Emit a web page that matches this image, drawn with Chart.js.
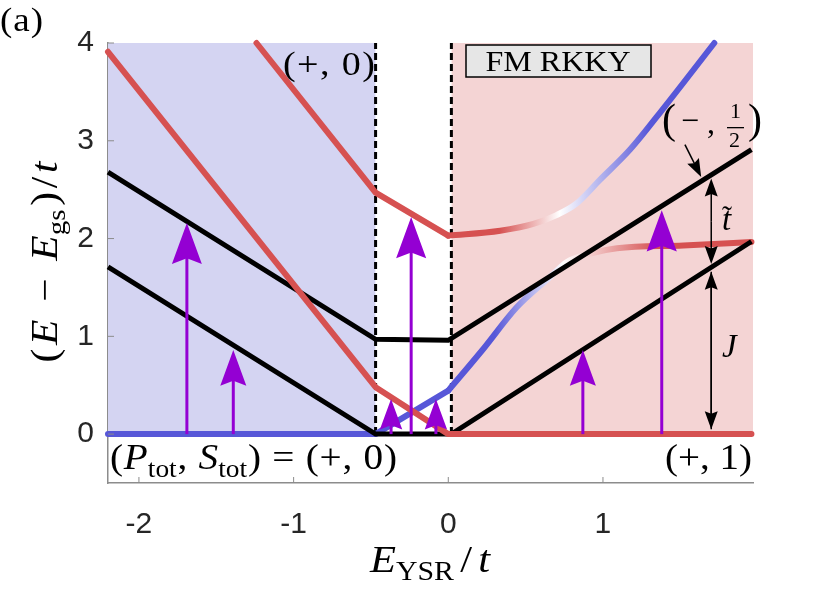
<!DOCTYPE html>
<html>
<head>
<meta charset="utf-8">
<script src="https://cdn.jsdelivr.net/npm/chart.js@4.4.0/dist/chart.umd.min.js"></script>
<style>
  html, body { margin: 0; padding: 0; background: #fff; }
  #wrap { width: 830px; height: 589px; }
</style>
</head>
<body>
<div id="wrap"><canvas id="spectrum" width="830" height="589"></canvas></div>
<script>
const xTicks = [-2, -1, 0, 1];
const yTicks = [0, 1, 2, 3, 4];

// levels: x = E_YSR/t, y = (E - E_gs)/t
const blackLowX = [-2.2, -0.47, 0.02, 1.96];
const blackLowY = [1.71, 0, 0, 1.97];
const blackUpX = [-2.2, -0.47, 0.0, 1.96];
const blackUpY = [2.68, 0.97, 0.96, 2.91];
const redLowX = [-2.2, -0.47, 0.0, 1.96];
const redLowY = [3.91, 0.48, 0, 0];
const redUpX = [-1.24, -0.47, 0.0];
const redUpY = [4.0, 2.47, 2.03];
const upperBendX = [0.0, 0.336, 0.55, 0.70, 0.83, 0.98, 1.175, 1.40, 1.72];
const upperBendY = [2.03, 2.08, 2.15, 2.24, 2.36, 2.60, 2.91, 3.35, 4.0];
const blueBaseX = [-2.2, -0.47, 0.0];
const blueBaseY = [0, 0, 0.445];
const lowerBendX = [0.0, 0.218, 0.444, 0.66, 0.767, 0.917, 1.09, 1.52, 1.96];
const lowerBendY = [0.445, 0.855, 1.30, 1.61, 1.76, 1.846, 1.90, 1.93, 1.965];

// phase regions and their borders
const blueRegionX = [-2.2, -0.47];
const blueRegionTop = [4.005, 4.03];
const pinkRegionX = [0.02, 1.97];
const pinkRegionTop = [4.005, 4.05];
const boundaryX = [-0.47, 0.02];

// purple excitation arrows, all from y = 0
const exciteX = [-1.69, -1.39, -0.37, -0.24, -0.08, 0.87, 1.38];
const exciteTop = [2.16, 0.86, 0.36, 2.22, 0.36, 0.86, 2.29];

// black gap markers
const gapX = 1.70;
const tildeSpan = [1.74, 2.615];
const jSpan = [0.05, 1.66];
const pointerFrom = [1.53, 2.96];
const pointerTo = [1.635, 2.63];

const RED = '#d65151';
const BLUE = '#5757d8';
const PURPLE = '#9400d3';
const SERIF = '"Liberation Serif", "DejaVu Serif", serif';

const pts = (xs, ys) => xs.map((x, i) => ({ x: x, y: ys[i] }));

function lineSet(xs, ys, color, width, order, extra) {
  return Object.assign({
    data: pts(xs, ys),
    showLine: true,
    borderColor: color,
    borderWidth: width,
    pointRadius: 0,
    tension: 0,
    fill: false,
    clip: 8,
    order: order
  }, extra || {});
}

function bendGradient(stops) {
  return (ctx) => {
    const chart = ctx.chart;
    if (!chart.chartArea) return stops[0][1];
    const sx = chart.scales.x;
    const x0 = sx.getPixelForValue(stops[0][0]);
    const x1 = sx.getPixelForValue(stops[stops.length - 1][0]);
    const g = chart.ctx.createLinearGradient(x0, 0, x1, 0);
    stops.forEach(([v, col]) => g.addColorStop((sx.getPixelForValue(v) - x0) / (x1 - x0), col));
    return g;
  };
}

function region(xs, tops, color, order) {
  return {
    data: pts(xs, tops),
    showLine: true,
    borderWidth: 0,
    pointRadius: 0,
    backgroundColor: color,
    fill: 'origin',
    order: order
  };
}

const round = { borderCapStyle: 'round', borderJoinStyle: 'round' };
const smooth = { borderCapStyle: 'round', borderJoinStyle: 'round', cubicInterpolationMode: 'monotone' };
const dashed = { borderDash: [7, 4], borderCapStyle: 'butt' };

const datasets = [
  lineSet(redLowX, redLowY, RED, 6, 1, round),
  lineSet(blackUpX, blackUpY, '#000', 5, 2),
  lineSet(blackLowX, blackLowY, '#000', 5, 2),
  lineSet(blueBaseX, blueBaseY, BLUE, 6, 3, round),
  lineSet(lowerBendX, lowerBendY,
    bendGradient([[0.3, BLUE], [0.74, '#ffffff'], [1.35, RED]]), 6, 3, smooth),
  lineSet(redUpX, redUpY, RED, 6, 4, round),
  lineSet(upperBendX, upperBendY,
    bendGradient([[0.33, RED], [0.72, '#ffffff'], [1.3, BLUE]]), 6, 4, smooth),
  lineSet([boundaryX[0], boundaryX[0]], [0, 4], '#000', 3, 5, dashed),
  lineSet([boundaryX[1], boundaryX[1]], [0, 4], '#000', 3, 5, dashed),
  region(blueRegionX, blueRegionTop, '#d4d4f2', 6),
  region(pinkRegionX, pinkRegionTop, '#f4d4d4', 6)
];

function arrowHead(c, tx, ty, ang, len, wid, color) {
  c.save();
  c.translate(tx, ty);
  c.rotate(ang);
  c.beginPath();
  c.moveTo(0, 0);
  c.lineTo(-len, -wid / 2);
  c.lineTo(-len * 0.86, 0);
  c.lineTo(-len, wid / 2);
  c.closePath();
  c.fillStyle = color;
  c.fill();
  c.restore();
}

function arrow(c, x0, y0, x1, y1, color, lw, len, wid) {
  const ang = Math.atan2(y1 - y0, x1 - x0);
  const L = Math.hypot(x1 - x0, y1 - y0);
  const ex = x0 + Math.cos(ang) * (L - len * 0.8);
  const ey = y0 + Math.sin(ang) * (L - len * 0.8);
  c.save();
  c.strokeStyle = color;
  c.lineWidth = lw;
  c.beginPath();
  c.moveTo(x0, y0);
  c.lineTo(ex, ey);
  c.stroke();
  c.restore();
  arrowHead(c, x1, y1, ang, len, wid, color);
}

// runs: [text, italic, subscript]; glyphs are drawn one by one so a
// target width is reached mostly by spacing, with only a light stretch.
// Subscripts stay tight and hug their base letter.
function mathText(c, runs, x, y, size, opts) {
  const glyphs = [];
  runs.forEach(([t, it, sub], r) => {
    const s = sub ? size * 0.7 : size;
    const font = (it ? 'italic ' : '') + s + 'px ' + SERIF;
    c.font = font;
    const chars = [...t];
    const nextSub = runs[r + 1] && runs[r + 1][2];
    chars.forEach((ch, j) => {
      const last = j === chars.length - 1;
      glyphs.push({
        ch: ch, font: font, w: c.measureText(ch).width,
        dy: sub ? size * 0.22 : 0,
        spaced: sub ? last : !(last && nextSub)
      });
    });
  });
  const total = glyphs.reduce((a, g) => a + g.w, 0);
  const slots = glyphs.slice(0, -1).filter(g => g.spaced).length;
  let k = 1, gap = 0;
  if (opts.width) {
    k = Math.min(opts.width / total, 1.12);
    gap = slots ? (opts.width - total * k) / slots / k : 0;
  }
  const full = total + gap * slots;
  c.save();
  c.translate(x, y);
  if (opts.rotate) c.rotate(opts.rotate);
  c.scale(k, 1);
  let cx = opts.align === 'center' ? -full / 2 : 0;
  c.textBaseline = 'alphabetic';
  c.textAlign = 'left';
  c.fillStyle = '#000';
  glyphs.forEach(g => {
    c.font = g.font;
    c.fillText(g.ch, cx, g.dy);
    cx += g.w + (g.spaced ? gap : 0);
  });
  c.restore();
}

const tickMarks = {
  id: 'tickMarks',
  afterDraw(chart) {
    const c = chart.ctx, { x, y } = chart.scales, a = chart.chartArea;
    c.save();
    c.strokeStyle = '#8c8c8c';
    c.lineWidth = 1;
    c.beginPath();
    xTicks.forEach(v => { const p = x.getPixelForValue(v); c.moveTo(p, a.bottom); c.lineTo(p, a.bottom - 6); });
    yTicks.forEach(v => { const p = y.getPixelForValue(v); c.moveTo(a.left, p); c.lineTo(a.left + 6, p); });
    c.stroke();
    c.restore();
  }
};

const annotations = {
  id: 'annotations',
  afterDraw(chart) {
    const c = chart.ctx, { x, y } = chart.scales;
    const X = v => x.getPixelForValue(v), Y = v => y.getPixelForValue(v);

    // excitation arrows
    exciteX.forEach((v, i) => {
      const L = Y(0) - Y(exciteTop[i]);
      const len = 10 + 5.8 * Math.log(L);
      arrow(c, X(v), Y(0), X(v), Y(exciteTop[i]), PURPLE, 3, len, len * 0.73);
    });

    // gap markers
    const tMid = Y((tildeSpan[0] + tildeSpan[1]) / 2);
    arrow(c, X(gapX), tMid, X(gapX), Y(tildeSpan[1]), '#000', 1.5, 18, 13);
    arrow(c, X(gapX), tMid, X(gapX), Y(tildeSpan[0]), '#000', 1.5, 18, 13);
    arrow(c, X(gapX), Y(jSpan[0]), X(gapX), Y(jSpan[1]), '#000', 1.5, 18, 13);
    arrow(c, X(gapX), Y(jSpan[1]), X(gapX), Y(jSpan[0]), '#000', 1.5, 18, 13);
    arrow(c, X(pointerFrom[0]), Y(pointerFrom[1]), X(pointerTo[0]), Y(pointerTo[1]), '#000', 1.5, 18, 13);

    // FM RKKY box
    c.save();
    c.fillStyle = '#e6e6e6';
    c.fillRect(466, 45, 185, 32);
    c.strokeStyle = '#000';
    c.lineWidth = 1.5;
    c.strokeRect(466, 45, 185, 32);
    c.restore();
    mathText(c, [['FM RKKY', 0, 0]], 558, 71, 30, { align: 'center', width: 145 });

    mathText(c, [['(a)', 0, 0]], 0, 31, 33, { width: 43 });
    mathText(c, [['(+, 0)', 0, 0]], 283, 75, 34, { width: 92 });
    mathText(c, [['(', 0, 0], ['P', 1, 0], ['tot', 0, 1], [', ', 0, 0], ['S', 1, 0], ['tot', 0, 1], [') = (+, 0)', 0, 0]],
      110, 469, 35, { width: 287 });
    mathText(c, [['(+, 1)', 0, 0]], 665, 469, 35, { width: 87 });
    mathText(c, [['J', 1, 0]], 722, 357, 33, {});
    mathText(c, [['t', 1, 0]], 722, 230, 33, {});
    mathText(c, [['\u02DC', 0, 0]], 722, 226, 30, {});

    // (-, 1/2)
    mathText(c, [['(', 0, 0]], 662, 133, 42, {});
    mathText(c, [['\u2212', 0, 0]], 681, 131, 32, {});
    mathText(c, [[',', 0, 0]], 707, 133, 32, {});
    mathText(c, [['1', 0, 0]], 730, 118, 22, {});
    mathText(c, [['2', 0, 0]], 729, 147, 22, {});
    c.save();
    c.fillStyle = '#000';
    c.fillRect(727, 127, 17, 1.3);
    c.restore();
    mathText(c, [[')', 0, 0]], 748, 133, 42, {});

    // axis titles
    mathText(c, [['(', 0, 0], ['E', 1, 0], [' \u2212 ', 0, 0], ['E', 1, 0], ['gs', 0, 1], [')/', 0, 0], ['t', 1, 0]],
      57, 262, 37, { rotate: -Math.PI / 2, align: 'center', width: 201 });
    mathText(c, [['E', 1, 0], ['YSR', 0, 1], ['/', 0, 0], ['t', 1, 0]], 370, 572, 38, { width: 120 });
  }
};

const ctx = document.getElementById('spectrum').getContext('2d');

const chart = new Chart(ctx, {
  type: 'scatter',
  data: { datasets: datasets },
  options: {
    responsive: false,
    animation: false,
    events: [],
    layout: { padding: { left: 0, right: 77, top: 43, bottom: 0 } },
    plugins: { legend: { display: false }, tooltip: { enabled: false } },
    scales: {
      x: {
        type: 'linear',
        min: -2.2,
        max: 1.97,
        afterBuildTicks: s => { s.ticks = xTicks.map(v => ({ value: v })); },
        afterFit: s => { s.height = 106; },
        grid: { display: false, drawTicks: false },
        border: { display: true, color: '#8c8c8c', width: 1.5 },
        ticks: { color: '#262626', padding: 24, font: { family: '"Liberation Sans", Arial, sans-serif', size: 30 } }
      },
      y: {
        type: 'linear',
        min: -0.5,
        max: 4,
        afterBuildTicks: s => { s.ticks = yTicks.map(v => ({ value: v })); },
        afterFit: s => { s.width = 108; },
        grid: { display: false, drawTicks: false },
        border: { display: true, color: '#8c8c8c', width: 1.5 },
        ticks: { color: '#262626', padding: 14, font: { family: '"Liberation Sans", Arial, sans-serif', size: 30 } }
      }
    }
  },
  plugins: [tickMarks, annotations]
});
</script>
</body>
</html>
